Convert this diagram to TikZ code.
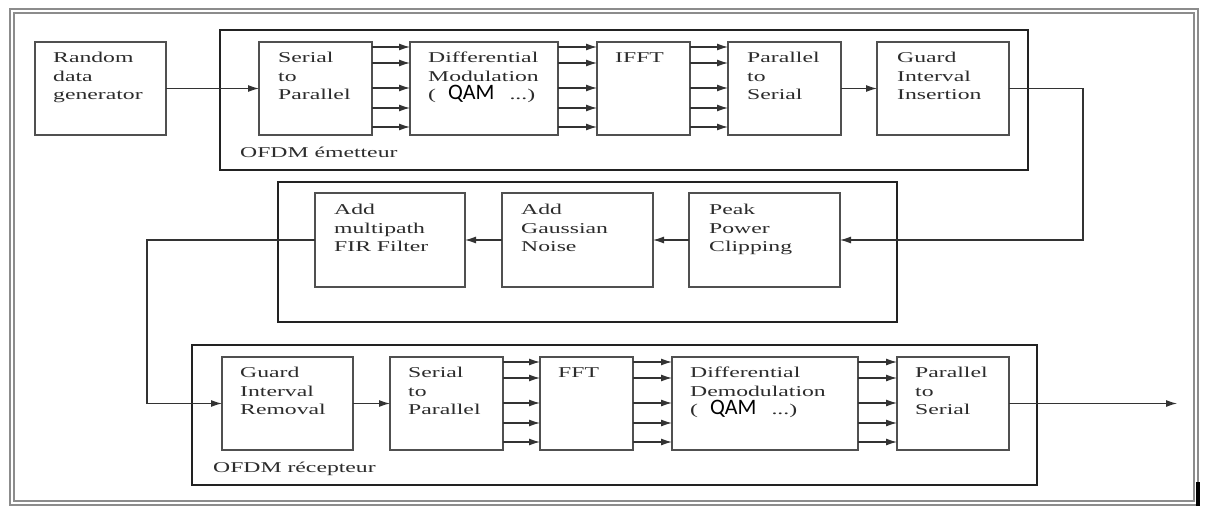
\documentclass[tikz,border=0pt]{standalone}
\usepackage{fontspec}
\setmainfont{Liberation Serif}[FakeStretch=1.58]
\newfontfamily\qamfont{Carlito}[Scale=1.47]
\usetikzlibrary{arrows.meta,calc}
\definecolor{textc}{HTML}{2C2C2C}
\definecolor{boxc}{HTML}{505050}
\definecolor{contc}{HTML}{222222}
\definecolor{linec}{HTML}{333333}
\tikzset{
  blk/.style={draw=boxc, line width=1.6pt, rectangle, inner sep=0pt, outer sep=0pt, anchor=north west, minimum height=93pt},
  cont/.style={draw=contc, line width=2.2pt, rectangle, inner sep=0pt, outer sep=0pt, anchor=north west, minimum height=140pt},
  txt/.style={font=\fontsize{15}{18.5}\selectfont, text=textc, align=left, inner sep=0pt, anchor=north west},
  arr/.style={draw=linec, line width=1.2pt, -{Latex[length=11pt,width=7pt]}},
}
\newcommand{\qamline}{(\hspace{12pt}{\qamfont\color{black}QAM}\hspace{15pt}...)}
\begin{document}
\begin{tikzpicture}[x=1pt,y=-1pt]
\useasboundingbox (0,0) rectangle (1209,506);
\fill[white] (0,0) rectangle (1209,506);
% outer frame
\draw[draw=gray!90, line width=1.8pt, double=white, double distance=2.2pt] (12,11) rectangle (1196,503);
\draw[black, line width=4pt] (1198,482) -- (1198,506);

% containers
\node[cont, minimum width=808pt] (emt) at (220,30) {};
\node[cont, minimum width=619pt] (chan) at (278,182) {};
\node[cont, minimum width=845pt] (rec) at (192,345) {};

% top row
\node[blk, minimum width=131pt] (rnd) at (35,42) {};
\node[blk, minimum width=113pt] (sp1) at (259,42) {};
\node[blk, minimum width=148pt] (dm) at (410,42) {};
\node[blk, minimum width=93pt] (ifft) at (597,42) {};
\node[blk, minimum width=113pt] (ps1) at (728,42) {};
\node[blk, minimum width=132pt] (gii) at (877,42) {};

% middle row
\node[blk, minimum width=150pt, minimum height=94pt] (mp) at (315,193) {};
\node[blk, minimum width=151pt, minimum height=94pt] (gn) at (502,193) {};
\node[blk, minimum width=151pt, minimum height=94pt] (pp) at (689,193) {};

% bottom row
\node[blk, minimum width=131pt] (gir) at (222,357) {};
\node[blk, minimum width=113pt] (sp2) at (390,357) {};
\node[blk, minimum width=93pt] (fft) at (540,357) {};
\node[blk, minimum width=186pt] (dd) at (672,357) {};
\node[blk, minimum width=112pt] (ps2) at (897,357) {};

% texts
\node[txt] (trnd) at ([xshift=18pt,yshift=-10pt]rnd.north west) {Random\\data\\generator};
\node[txt] (tsp1) at ([xshift=19pt,yshift=-10pt]sp1.north west) {Serial\\to\\Parallel};
\node[txt] (tdm) at ([xshift=18pt,yshift=-10pt]dm.north west) {Differential\\Modulation\\\qamline};
\node[txt] (tifft) at ([xshift=18pt,yshift=-10pt]ifft.north west) {IFFT};
\node[txt] (tps1) at ([xshift=19pt,yshift=-10pt]ps1.north west) {Parallel\\to\\Serial};
\node[txt] (tgii) at ([xshift=20pt,yshift=-10pt]gii.north west) {Guard\\Interval\\Insertion};
\node[txt] (temt) at (240,147) {OFDM émetteur};

\node[txt] (tmp) at ([xshift=19pt,yshift=-11pt]mp.north west) {Add\\multipath\\FIR Filter};
\node[txt] (tgn) at ([xshift=19pt,yshift=-11pt]gn.north west) {Add\\Gaussian\\Noise};
\node[txt] (tpp) at ([xshift=20pt,yshift=-11pt]pp.north west) {Peak\\Power\\Clipping};

\node[txt] (tgir) at ([xshift=18pt,yshift=-10pt]gir.north west) {Guard\\Interval\\Removal};
\node[txt] (tsp2) at ([xshift=18pt,yshift=-10pt]sp2.north west) {Serial\\to\\Parallel};
\node[txt] (tfft) at ([xshift=18pt,yshift=-10pt]fft.north west) {FFT};
\node[txt] (tdd) at ([xshift=18pt,yshift=-10pt]dd.north west) {Differential\\Demodulation\\\qamline};
\node[txt] (tps2) at ([xshift=18pt,yshift=-10pt]ps2.north west) {Parallel\\to\\Serial};
\node[txt] (trec) at (213,462) {OFDM récepteur};

% connectors
\draw[arr] (rnd.east) -- (sp1.west);
\foreach \o in {5,21,46,66,85}{
  \draw[arr] ($(sp1.north east)+(0,\o)$) -- ($(dm.north west)+(0,\o)$);
  \draw[arr] ($(dm.north east)+(0,\o)$) -- ($(ifft.north west)+(0,\o)$);
  \draw[arr] ($(ifft.north east)+(0,\o)$) -- ($(ps1.north west)+(0,\o)$);
  \draw[arr] ($(sp2.north east)+(0,\o)$) -- ($(fft.north west)+(0,\o)$);
  \draw[arr] ($(fft.north east)+(0,\o)$) -- ($(dd.north west)+(0,\o)$);
  \draw[arr] ($(dd.north east)+(0,\o)$) -- ($(ps2.north west)+(0,\o)$);
}
\draw[arr] (ps1.east) -- (gii.west);
\coordinate (c1) at (1083,88.5);
\draw[arr] (gii.east) -- (c1) |- (pp.east);
\draw[arr] (pp.west) -- (gn.east);
\draw[arr] (gn.west) -- (mp.east);
\coordinate (c2) at (147,240);
\draw[arr] (mp.west) -- (c2) |- (gir.west);
\draw[arr] (gir.east) -- (sp2.west);
\coordinate (out) at (1177,403.5);
\draw[arr] (ps2.east) -- (out);
\end{tikzpicture}
\end{document}
